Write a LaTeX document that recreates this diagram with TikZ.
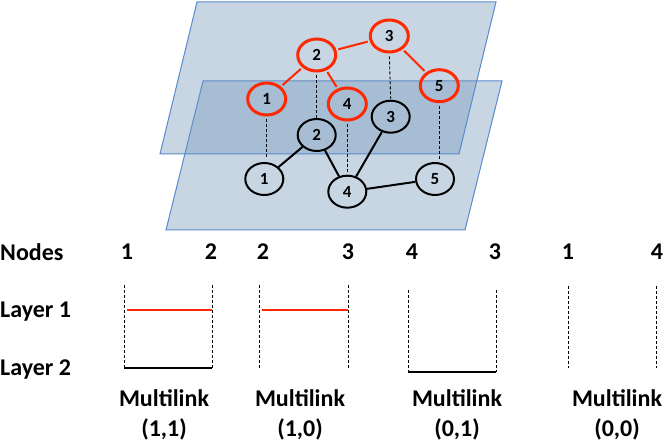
\documentclass[tikz,border=0pt]{standalone}
\usepackage{fontspec}
\setmainfont{Carlito}
\usetikzlibrary{shapes.geometric}
\definecolor{planefill}{RGB}{110,147,184}
\definecolor{planeline}{RGB}{88,138,204}
\definecolor{myred}{RGB}{255,40,0}
\begin{document}
\begin{tikzpicture}[x=1pt,y=-1pt,
  plane/.style={draw=planeline,line width=1pt,fill=planefill,fill opacity=0.38,line join=miter},
  rnode/.style={ellipse,draw=myred,line width=3pt,minimum width=38pt,minimum height=32pt,inner sep=0pt,font=\bfseries\fontsize{17}{17}\selectfont},
  bnode/.style={ellipse,draw=black,line width=2pt,minimum width=38pt,minimum height=32pt,inner sep=0pt,font=\bfseries\fontsize{17}{17}\selectfont},
  redge/.style={draw=myred,line width=2pt},
  bedge/.style={draw=black,line width=2pt},
  vdash/.style={draw=black,line width=0.9pt,dash pattern=on 3pt off 2pt},
  lbl/.style={font=\bfseries\fontsize{24}{28}\selectfont,inner sep=0pt},
  mlbl/.style={font=\bfseries\fontsize{24}{30}\selectfont,align=center,inner sep=0pt}
]
\useasboundingbox (0,0) rectangle (664,443);
% planes
\path[plane] (203,81) -- (502,81) -- (465,230) -- (166,230) -- cycle;
\path[plane] (197,2) -- (496,2) -- (459,154) -- (160,154) -- cycle;
% layer 1 (red)
\node[rnode] (r1) at (266.7,99) {1};
\node[rnode] (r2) at (316.7,55) {2};
\node[rnode] (r3) at (389.3,36) {3};
\node[rnode] (r4) at (347.3,104) {4};
\node[rnode] (r5) at (439.3,85.7) {5};
% layer 2 (black)
\node[bnode] (b1) at (264.3,179) {1};
\node[bnode] (b2) at (316.7,135) {2};
\node[bnode] (b3) at (390.7,116.7) {3};
\node[bnode] (b4) at (347.3,191.7) {4};
\node[bnode] (b5) at (435,179) {5};
% red edges
\draw[redge,shorten <=2pt,shorten >=2pt] (r1) -- (r2);
\draw[redge,shorten <=2pt,shorten >=2pt] (r2) -- (r4);
\draw[redge,shorten <=2pt,shorten >=2pt] (r2) -- (r3);
\draw[redge,shorten <=2pt,shorten >=2pt] (r3) -- (r5);
% black edges
\draw[bedge] (b1) -- (b2);
\draw[bedge] (b2) -- (b4);
\draw[bedge] (b3) -- (b4);
\draw[bedge] (b4) -- (b5);
% inter-layer dashes
\draw[vdash,shorten <=3pt,shorten >=3pt] (r1.south) -- (r1.south |- b1.north);
\draw[vdash,shorten <=3pt] (r2.south) -- (b2.north);
\draw[vdash,shorten <=3pt,shorten >=1pt] (r3.south) -- (b3.north);
\draw[vdash,shorten <=3pt,shorten >=1pt] (r4.south) -- (b4.north);
\draw[vdash,shorten <=3pt,shorten >=2pt] (r5.south) -- (r5.south |- b5.north);
% bottom table
\node[lbl,anchor=west] (hn) at (0,252) {Nodes};
\node[lbl,anchor=west] (hl1) at (0,312) {Layer 1};
\node[lbl,anchor=west] (hl2) at (0,370) {Layer 2};
\node[lbl] (n1a) at (127,252) {1};
\node[lbl] (n1b) at (211,252) {2};
\node[lbl] (n2a) at (263,252) {2};
\node[lbl] (n2b) at (348,252) {3};
\node[lbl] (n3a) at (412,252) {4};
\node[lbl] (n3b) at (495,252) {3};
\node[lbl] (n4a) at (568,252) {1};
\node[lbl] (n4b) at (657,252) {4};
% dashed columns
\coordinate (a1t) at (124,285); \coordinate (a1b) at (124,368);
\coordinate (a2t) at (212,285); \coordinate (a2b) at (212,368);
\coordinate (b1t) at (259,285); \coordinate (b1b) at (259,368);
\coordinate (b2t) at (348,285); \coordinate (b2b) at (348,368);
\coordinate (c1t) at (408,290); \coordinate (c1b) at (408,372);
\coordinate (c2t) at (496,290); \coordinate (c2b) at (496,372);
\coordinate (d1t) at (568,286); \coordinate (d1b) at (568,368);
\coordinate (d2t) at (656,286); \coordinate (d2b) at (656,368);
\foreach \p in {a1,a2,b1,b2,c1,c2,d1,d2} \draw[vdash] (\p t) -- (\p b);
% link lines
\coordinate (a1r) at (127,310); \coordinate (a2r) at (212,310);
\coordinate (b1r) at (262,310); \coordinate (b2r) at (348,310);
\draw[draw=myred,line width=2pt] (a1r) -- (a2r);
\draw[draw=myred,line width=2pt] (b1r) -- (b2r);
\draw[bedge] (a1b) -- (a2b);
\draw[bedge] (c1b) -- (c2b);
% multilink labels
\node[mlbl] (m1) at (164,415) {Multilink\\(1,1)};
\node[mlbl] (m2) at (300,415) {Multilink\\(1,0)};
\node[mlbl] (m3) at (457,415) {Multilink\\(0,1)};
\node[mlbl] (m4) at (617,415) {Multilink\\(0,0)};
\end{tikzpicture}
\end{document}
